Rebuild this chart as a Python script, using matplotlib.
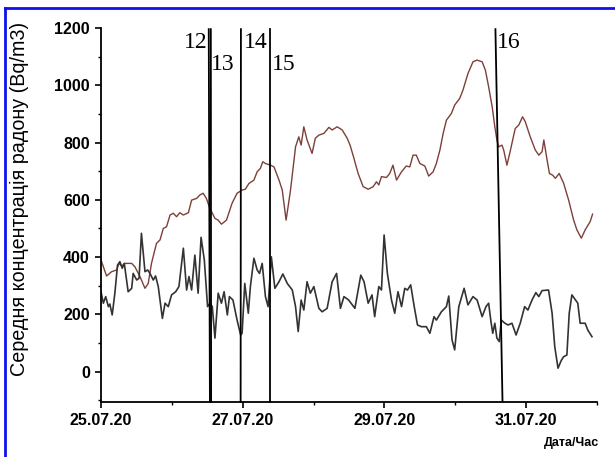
import matplotlib
matplotlib.use("Agg")
import matplotlib.pyplot as plt
from matplotlib.ticker import MultipleLocator, FixedLocator
from matplotlib.lines import Line2D

# ==============================
# Data (hours since 25.07.20 00:00, Bq/m3)
# ==============================

upper_hours = [
    0.0, 1.9, 3.6, 5.3, 6.1, 7.0, 8.1, 10.4, 11.5, 13.2,
    14.9, 16.0, 17.1, 18.8, 20.0, 21.1, 22.2, 23.4, 24.5, 25.6,
    26.7, 27.9, 29.6, 30.7, 32.4, 33.5, 34.6, 35.7, 36.9, 38.6,
    39.7, 40.8, 42.5, 44.4, 46.1, 47.8, 48.9, 50.1, 51.8, 52.9,
    54.0, 54.8, 55.7, 57.4, 58.6, 60.3, 61.4, 62.7, 64.2, 65.9,
    67.0, 67.8, 68.7, 69.8, 71.5, 72.6, 73.8, 75.5, 77.2, 78.3,
    80.0, 81.7, 83.4, 84.4, 85.4, 87.1, 88.8, 90.5, 92.2, 93.3,
    94.1, 95.0, 96.7, 97.8, 98.9, 100.1, 101.8, 103.4, 104.6, 105.7,
    106.8, 108.0, 109.7, 111.0, 112.5, 113.6, 114.8, 115.9, 117.0, 118.7,
    119.8, 121.5, 122.6, 124.3, 126.0, 127.4, 129.1, 130.2, 131.3, 132.5,
    133.4, 134.1, 134.7, 135.8, 136.4, 137.5, 138.7, 140.3, 141.5, 142.8,
    143.7, 145.4, 147.1, 148.3, 149.4, 150.0, 151.1, 151.9, 153.0, 153.9,
    155.2, 156.7, 158.4, 160.1, 161.2, 162.7, 164.0, 165.7, 166.5,
]
upper_values = [
    390, 334, 349, 355, 378, 369, 378, 378, 366, 332,
    291, 308, 378, 448, 460, 500, 506, 547, 553, 541,
    555, 547, 555, 599, 605, 617, 623, 605, 570, 535,
    529, 515, 529, 588, 623, 634, 637, 657, 669, 698,
    710, 733, 727, 721, 715, 669, 634, 529, 634, 785,
    820, 791, 855, 809, 762, 815, 826, 832, 853, 844,
    855, 844, 815, 790, 755, 692, 646, 637, 646, 663,
    652, 681, 678, 692, 721, 669, 698, 718, 715, 756,
    756, 727, 718, 683, 698, 727, 774, 832, 878, 902,
    931, 954, 983, 1041, 1082, 1088, 1082, 1053, 995, 925,
    855, 809, 785, 791, 774, 721, 774, 849, 861, 890,
    873, 820, 774, 756, 768, 809, 739, 692, 686, 675,
    692, 658, 599, 529, 495, 466, 495, 524, 550,
]

lower_hours = [
    0.0, 0.8, 1.6, 2.5, 3.0, 3.8, 4.7, 5.6, 6.4, 7.2,
    7.9, 9.2, 10.4, 10.9, 12.1, 12.9, 13.7, 14.9, 15.8, 16.6,
    17.7, 18.5, 19.4, 20.8, 21.7, 22.8, 23.9, 25.3, 26.4, 27.9,
    29.0, 29.8, 30.7, 31.8, 32.9, 33.9, 35.0, 36.1, 36.9, 37.7,
    38.6, 39.7, 40.8, 41.7, 42.8, 43.5, 44.7, 46.1, 47.3, 47.8,
    48.7, 49.9, 50.6, 51.8, 52.9, 53.7, 54.6, 55.7, 56.6, 57.7,
    58.9, 60.3, 61.6, 63.1, 64.8, 65.9, 66.8, 67.8, 68.7, 69.8,
    70.9, 72.1, 73.8, 74.9, 76.6, 78.3, 79.8, 81.1, 82.3, 83.9,
    86.0, 88.0, 89.1, 90.5, 91.8, 92.7, 94.1, 95.0, 95.9, 97.0,
    98.4, 99.5, 100.6, 101.8, 102.9, 103.8, 104.9, 106.1, 107.2, 108.5,
    110.2, 111.4, 112.8, 113.6, 115.3, 117.0, 117.8, 118.9, 119.8, 121.2,
    123.0, 124.3, 126.0, 127.4, 129.1, 130.4, 131.3, 132.1, 132.7, 133.4,
    134.1, 134.9, 135.6, 136.8, 137.9, 139.2, 140.6, 142.0, 143.5, 144.6,
    146.0, 147.3, 148.3, 149.4, 151.6, 152.8, 153.7, 154.8, 155.9, 156.7,
    157.8, 158.6, 159.5, 161.5, 162.3, 164.0, 164.9, 166.3,
]
lower_values = [
    279, 239, 262, 227, 236, 198, 274, 372, 384, 361,
    378, 279, 291, 343, 320, 326, 483, 349, 355, 343,
    320, 334, 297, 186, 239, 227, 268, 279, 297, 431,
    285, 332, 285, 407, 274, 469, 390, 227, 239, 227,
    117, 274, 239, 279, 198, 262, 250, 180, 128, 134,
    308, 204, 297, 396, 355, 343, 378, 262, 227, 401,
    291, 314, 341, 308, 285, 227, 140, 250, 215, 314,
    274, 297, 221, 209, 221, 314, 343, 221, 262, 250,
    221, 337, 314, 239, 268, 192, 297, 285, 477, 343,
    250, 204, 279, 227, 291, 285, 303, 227, 163, 157,
    157, 134, 192, 180, 209, 227, 264, 111, 76, 227,
    291, 233, 262, 250, 192, 227, 239, 174, 134, 169,
    117, 105, 180, 169, 163, 169, 128, 169, 227, 215,
    250, 276, 262, 283, 285, 204, 87, 12, 39, 52,
    58, 204, 268, 239, 169, 169, 145, 122,
]

# event markers: label, hour at top, hour at bottom
event_labels = ["12", "13", "14", "15", "16"]
event_top = [36.5, 37.2, 47.4, 57.1, 133.6]
event_bottom = [36.9, 37.3, 47.3, 57.1, 136.0]
label_hours = [28.0, 37.3, 48.5, 57.9, 134.0]
label_levels = [1129, 1055, 1129, 1055, 1129]

date_ticks = [0, 48, 96, 144]
date_labels = ["25.07.20", "27.07.20", "29.07.20", "31.07.20"]

# ==============================
# Plot
# ==============================

fig = plt.figure(figsize=(6.15, 4.57), dpi=100)
ax = fig.add_axes([0.1642, 0.121, 0.9707 - 0.1642, 0.9387 - 0.121])

ax.plot(upper_hours, upper_values, color="#7c4039", lw=1.0)
ax.plot(lower_hours, lower_values, color="#333333", lw=1.2)

ymin, ymax = -105, 1200
for lab, xt, xb, xl, yl in zip(event_labels, event_top, event_bottom, label_hours, label_levels):
    ax.plot([xt, xb], [1196, ymin], color="black", lw=1.3, clip_on=False)
    ax.text(xl, yl, lab, family="Liberation Serif", fontsize=17,
            ha="left", va="baseline", color="black")

ax.set_xlim(0, 168)
ax.set_ylim(ymin, ymax)

for s in ["top", "right"]:
    ax.spines[s].set_visible(False)
ax.spines["left"].set_linewidth(1.3)
ax.spines["bottom"].set_linewidth(1.3)

ax.xaxis.set_major_locator(FixedLocator(date_ticks))
ax.set_xticklabels(date_labels)
ax.xaxis.set_minor_locator(MultipleLocator(24))
ax.yaxis.set_major_locator(MultipleLocator(200))
ax.yaxis.set_minor_locator(MultipleLocator(100))
ax.tick_params(axis="both", which="major", direction="out", length=4, width=1.2,
               labelsize=11.5, pad=4)
ax.tick_params(axis="both", which="minor", direction="out", length=2.5, width=1.0)
for lbl in ax.get_xticklabels() + ax.get_yticklabels():
    lbl.set_fontweight("bold")
    lbl.set_family("Liberation Sans")

fig.text(19 / 615, 1 - 199 / 457, "Середня концентрація радону (Bq/m3)",
         rotation=90, ha="center", va="center", fontsize=14.2,
         family="Liberation Sans")
fig.text(572 / 615, 1 - 443 / 457, "Дата/Час", ha="center", va="center",
         fontsize=9, fontweight="bold", family="Liberation Sans")

# blue frame (top and left edges)
fig.add_artist(Line2D([5 / 615, 5 / 615], [0, 1 - 8 / 457], color="#1010ee", lw=2,
                      transform=fig.transFigure))
fig.add_artist(Line2D([5 / 615, 1], [1 - 8 / 457, 1 - 8 / 457], color="#1010ee", lw=2,
                      transform=fig.transFigure))

fig.savefig("out.png", dpi=100)
